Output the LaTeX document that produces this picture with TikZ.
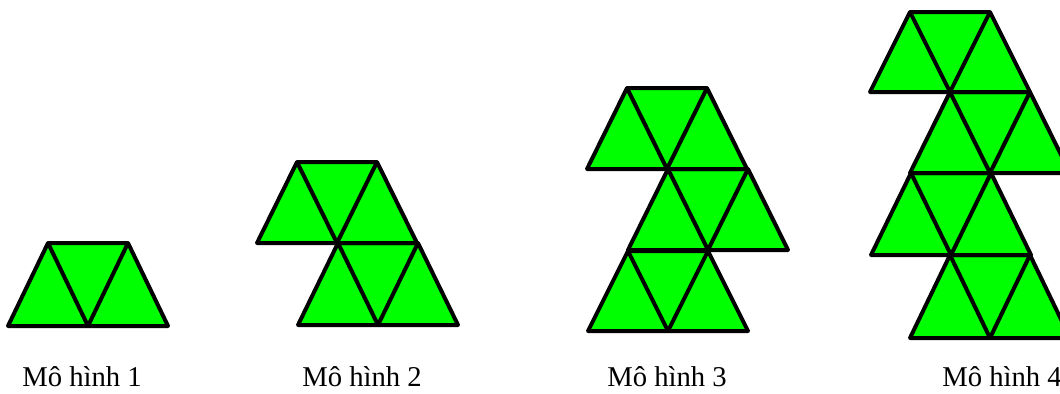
\documentclass[tikz,border=0pt]{standalone}
\usepackage{fontspec}
\setmainfont{Liberation Serif}
\definecolor{TileGreen}{RGB}{0,255,0}
\tikzset{
  tile/.style={draw=black,fill=TileGreen,line width=3pt,line join=round},
  tileedge/.style={draw=black,line width=3pt,line join=round},
  caption/.style={anchor=base west,inner sep=0pt,font=\fontsize{21.5}{26}\selectfont}
}
\begin{document}
\begin{tikzpicture}[x=0.75pt,y=-0.75pt]
  \useasboundingbox (0,0) rectangle (1060,393);
  \begin{scope}
  \clip (0,0) rectangle (1060,393);
  % each entry: lower left corner of a strip of three triangles / its height
  \foreach \x/\y/\h in {
    8/326/83,
    298/325/82, 257/243/81,
    588/331/80, 628/250/81, 587/169/81,
    910/338/83, 871/255/82, 910/173/81, 870/92/80}{
    \draw[tile] (\x,\y) -- ++(160,0) -- ++(-40,-\h) -- ++(-80,0) -- cycle;
    \draw[tileedge] (\x+40,\y-\h) -- (\x+80,\y) -- (\x+120,\y-\h);
  }
  \end{scope}
  \node[caption] (m1) at (22,386) {Mô hình 1};
  \node[caption] (m2) at (302,386) {Mô hình 2};
  \node[caption] (m3) at (607,386) {Mô hình 3};
  \node[caption] (m4) at (942,386) {Mô hình 4};
\end{tikzpicture}
\end{document}
